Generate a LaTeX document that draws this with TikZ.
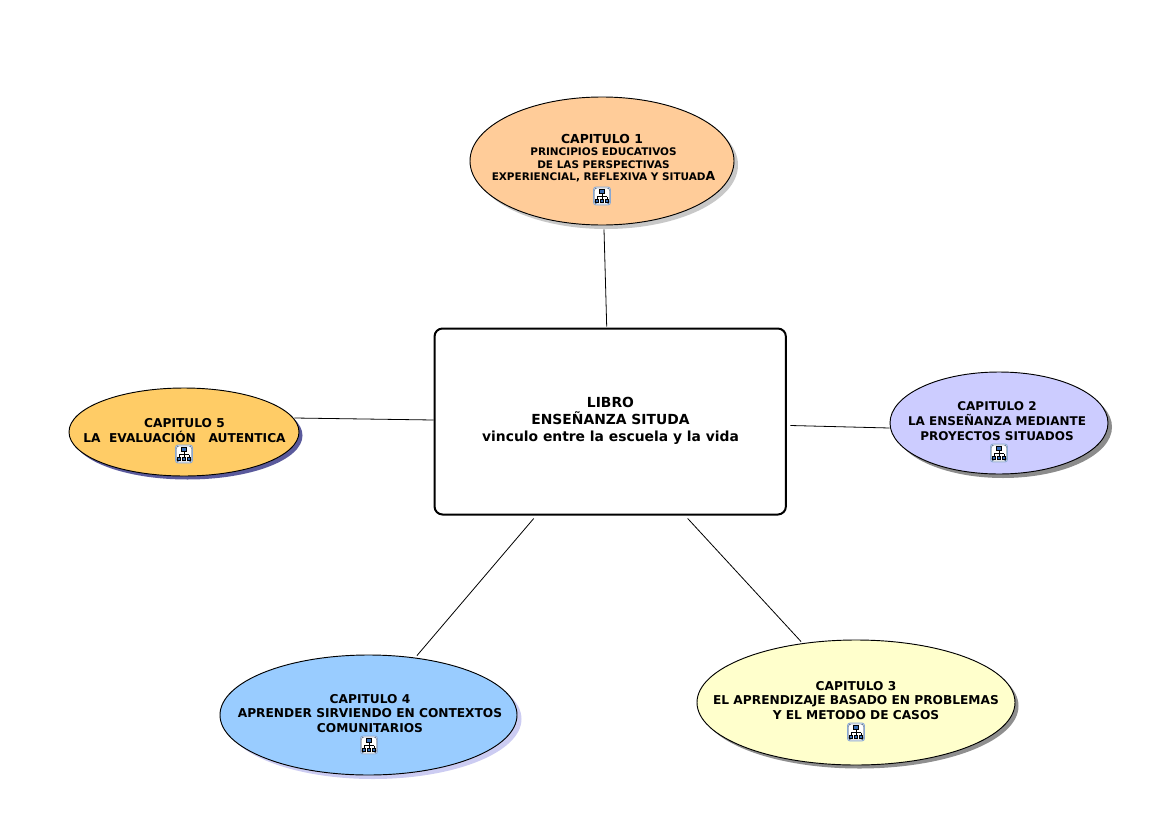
\documentclass[tikz,border=0pt]{standalone}
\usepackage{fontspec}
\setmainfont{DejaVu Sans}
\usetikzlibrary{shapes.geometric,calc}
\definecolor{cA}{HTML}{FFCC99}
\definecolor{cB}{HTML}{CCCCFF}
\definecolor{cC}{HTML}{FFFFCC}
\definecolor{cD}{HTML}{99CCFF}
\definecolor{cE}{HTML}{FFCC66}
\definecolor{sA}{HTML}{C8C8C8}
\definecolor{sB}{HTML}{8C8C8C}
\definecolor{sC}{HTML}{8F8F8F}
\definecolor{sD}{HTML}{CCCCF2}
\definecolor{sE}{HTML}{5A5A9C}
\definecolor{iconblue}{HTML}{3A6EB5}
\tikzset{
  x=0.75pt,y=-0.75pt,
  chapter/.style={ellipse,draw=black,line width=0.7pt,inner sep=0pt},
  shadowfill/.style={ellipse,inner sep=0pt,draw=none},
  mainbox/.style={rectangle,rounded corners=6pt,draw=black,line width=1.5pt,fill=white,inner sep=0pt},
  link/.style={draw=black,line width=0.6pt},
  txt/.style={align=center,font=\fontsize{10.4}{12.75}\selectfont\bfseries,inner sep=0pt},
  txtb/.style={align=center,font=\fontsize{9.15}{11.2}\selectfont\bfseries,inner sep=0pt},
  txts/.style={align=center,font=\fontsize{7.85}{9.6}\selectfont\bfseries,inner sep=0pt},
  icon/.pic={
    \draw[draw=iconblue!60!white,line width=0.7pt,fill=white,rounded corners=2pt] (-8.5,-9) rectangle (8.5,9);
    \draw[draw=iconblue!50!black,line width=0.3pt,rounded corners=1.8pt] (-7.5,-8) rectangle (7.5,8);
    \draw[black,line width=0.4pt] (0,-3) -- (0,4) (-5,0.5) -- (5,0.5) (-5,0.5) -- (-5,3.5) (5,0.5) -- (5,3.5);
    \draw[fill=iconblue,draw=black,line width=0.3pt] (-2.5,-6.5) rectangle (2.5,-3);
    \draw[fill=iconblue,draw=black,line width=0.3pt] (-6.5,3) rectangle (-3.5,6);
    \draw[fill=iconblue,draw=black,line width=0.3pt] (-1.5,3.5) rectangle (1.5,6.5);
    \draw[fill=iconblue,draw=black,line width=0.3pt] (3.5,3) rectangle (6.5,6);
  }
}
\begin{document}
\begin{tikzpicture}
\useasboundingbox (0,0) rectangle (1156,821);
% shadows
\node[shadowfill,fill=sA,minimum width=198pt,minimum height=96pt] (sha) at (606,165) {};
\node[shadowfill,fill=sB,minimum width=163.5pt,minimum height=76.5pt] (shb) at (1003,427) {};
\node[shadowfill,fill=sC,minimum width=238.5pt,minimum height=93.75pt] (shc) at (859.5,706) {};
\node[shadowfill,fill=sD,minimum width=222.75pt,minimum height=90pt] (shd) at (373,719) {};
\node[shadowfill,fill=sE,minimum width=172.5pt,minimum height=66pt] (she) at (187.5,435.5) {};
% nodes
\node[chapter,fill=cA,minimum width=198pt,minimum height=96pt] (e1) at (602,161) {};
\node[chapter,fill=cB,minimum width=163.5pt,minimum height=76.5pt] (e2) at (999,423) {};
\node[chapter,fill=cC,minimum width=238.5pt,minimum height=93.75pt] (e3) at (856,702.5) {};
\node[chapter,fill=cD,minimum width=222.75pt,minimum height=90pt] (e4) at (368.5,715) {};
\node[chapter,fill=cE,minimum width=172.5pt,minimum height=66pt] (e5) at (184,432) {};
\node[mainbox,minimum width=263.5pt,minimum height=139.5pt] (main) at (610.2,421.5) {};
% connectors
\draw[link] ([shift={(2,4)}]e1.south) -- ([shift={(-3.5,-1)}]main.north);
\draw[link] ([shift={(0,5)}]e2.west) -- ([shift={(3.5,4)}]main.east);
\draw[link] ([shift={(-55,2)}]e3.north) -- ([shift={(77.5,3)}]main.south);
\draw[link] ([shift={(48.5,1)}]e4.north) -- ([shift={(-76.5,3)}]main.south);
\draw[link] ([shift={(-5,-14)}]e5.east) -- ([shift={(0,-1.5)}]main.west);
% texts
\node[txt] (m) at (610.5,420.5) {LIBRO\\ENSEÑANZA SITUDA\\vinculo entre la escuela y la vida};
\node[txt,font=\fontsize{9.3}{11}\selectfont\bfseries] (t1a) at (602,138.5) {CAPITULO 1};
\node[txts] (t1b) at (603.5,165) {PRINCIPIOS EDUCATIVOS\\DE LAS PERSPECTIVAS\\EXPERIENCIAL, REFLEXIVA Y SITUAD{\fontsize{9.3}{9.6}\selectfont A}};
\node[txtb,font=\fontsize{9}{11.2}\selectfont\bfseries] (t2) at (997,421.5) {CAPITULO 2\\LA ENSEÑANZA MEDIANTE\\PROYECTOS SITUADOS};
\node[txtb] (t3) at (856,700.5) {CAPITULO 3\\EL APRENDIZAJE BASADO EN PROBLEMAS\\Y EL METODO DE CASOS};
\node[txtb] (t4) at (370,713.5) {CAPITULO 4\\APRENDER SIRVIENDO EN CONTEXTOS\\COMUNITARIOS};
\node[txtb] (t5) at (184.5,430.5) {CAPITULO 5\\LA\ \ EVALUACIÓN\ \ \ AUTENTICA};
% icons
\pic at (602,196) {icon};
\pic at (999,453) {icon};
\pic at (856,732) {icon};
\pic at (369,745) {icon};
\pic at (184,454) {icon};
\end{tikzpicture}
\end{document}
